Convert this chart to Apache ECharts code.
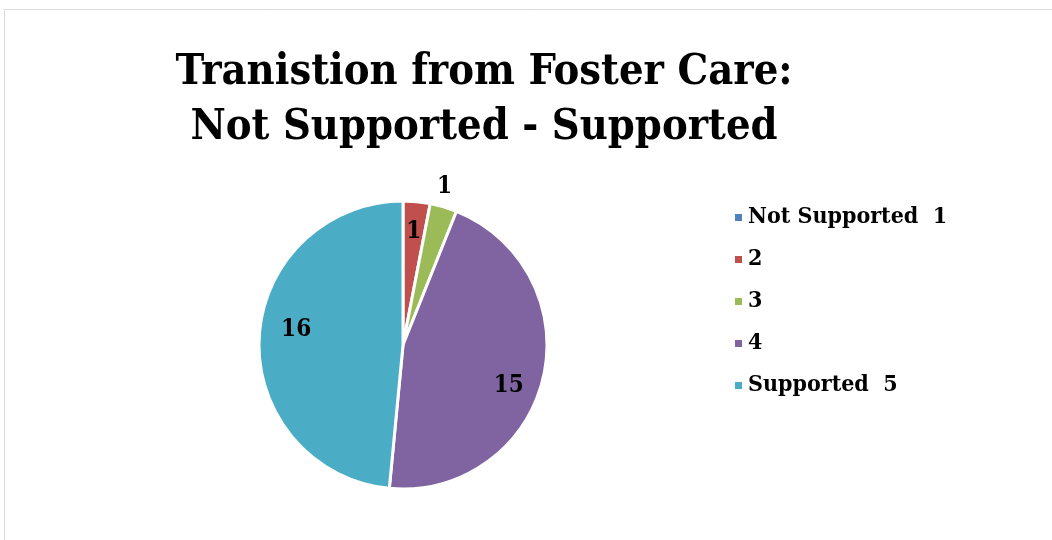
<!DOCTYPE html>
<html>
<head>
<meta charset="utf-8">
<script src="https://cdn.jsdelivr.net/npm/echarts@6/dist/echarts.min.js"></script>
<style>
  html, body { margin: 0; padding: 0; background: #ffffff; }
  #chart { width: 1052px; height: 540px; }
</style>
</head>
<body>
<div id="chart"></div>
<script>
// Survey responses on a 1–5 scale
const categories = ['Not Supported  1', '2', '3', '4', 'Supported  5'];
const counts = [0, 1, 1, 15, 16];
const colors = ['#4F81BD', '#C0504D', '#9BBB59', '#8064A2', '#4BACC6'];
const titleText = 'Tranistion from Foster Care:\nNot Supported - Supported';

const serif = "'DejaVu Serif Condensed', 'Liberation Serif', serif";
const center = [403, 345];
const radius = 144;

// Small nudges so each value label sits in a comfortable spot of its slice
const labelNudge = { 2: [-15, -9], 3: [-5, 14], 4: [7, -10] };

const sliceData = categories.map((name, i) => ({
  name: name,
  value: counts[i],
  itemStyle: { color: colors[i] }
}));

// Value labels sit on a transparent ring so they land about three quarters out
const labelData = categories.map((name, i) => {
  const item = { name: name, value: counts[i], label: {} };
  if (counts[i] === 0) {
    item.label.show = false;
  }
  if (i === 2) {
    item.label.position = 'outside';
  }
  if (labelNudge[i]) {
    item.label.offset = labelNudge[i];
  }
  return item;
});

const chart = echarts.init(document.getElementById('chart'), null, { renderer: 'canvas' });
chart.setOption({
  animation: false,
  backgroundColor: '#ffffff',
  graphic: [{
    type: 'rect',
    shape: { x: 4.5, y: 9.5, width: 1100, height: 600 },
    style: { fill: 'none', stroke: '#d9d9d9', lineWidth: 1 },
    silent: true
  }],
  title: {
    text: titleText,
    left: 479,
    top: 40,
    textAlign: 'center',
    textStyle: {
      fontFamily: serif,
      fontWeight: 'bold',
      fontSize: 43,
      lineHeight: 55,
      color: '#000000'
    }
  },
  legend: {
    orient: 'vertical',
    left: 728,
    top: 201,
    itemWidth: 9,
    itemHeight: 9,
    itemGap: 19,
    icon: 'rect',
    data: categories,
    selectedMode: false,
    textStyle: {
      fontFamily: serif,
      fontWeight: 'bold',
      fontSize: 23,
      color: '#000000'
    }
  },
  series: [
    {
      type: 'pie',
      center: center,
      radius: [0, radius],
      startAngle: 90,
      clockwise: true,
      silent: true,
      label: { show: false },
      labelLine: { show: false },
      itemStyle: { borderColor: '#ffffff', borderWidth: 3 },
      data: sliceData
    },
    {
      type: 'pie',
      center: center,
      radius: [78, radius],
      startAngle: 90,
      clockwise: true,
      silent: true,
      legendHoverLink: false,
      itemStyle: { color: 'rgba(0,0,0,0)' },
      label: {
        show: true,
        position: 'inside',
        formatter: '{c}',
        fontFamily: serif,
        fontWeight: 'bold',
        fontSize: 24,
        color: '#000000'
      },
      labelLine: { show: false, length: 12, length2: 0 },
      data: labelData
    }
  ]
});
</script>
</body>
</html>
